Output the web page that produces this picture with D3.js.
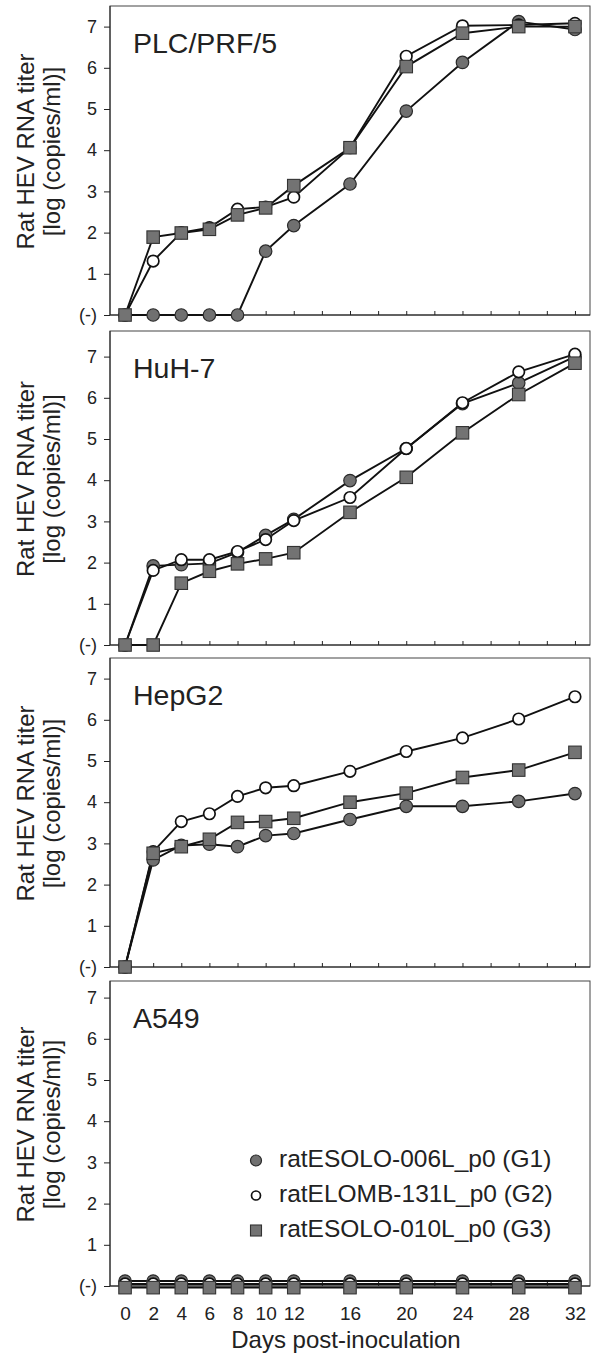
<!DOCTYPE html>
<html>
<head>
<meta charset="utf-8">
<script src="https://cdn.jsdelivr.net/npm/d3@7"></script>
<style>
body { margin: 0; background: #fff; }
text { font-family: "Liberation Sans", Arial, sans-serif; fill: #222; }
</style>
</head>
<body>
<svg id="chart" width="593" height="1355"></svg>
<script>
// days post-inoculation (sampling points)
var days = [0, 2, 4, 6, 8, 10, 12, 16, 20, 24, 28, 32];
var dayTicks = [0, 2, 4, 6, 8, 10, 12, 14, 16, 18, 20, 22, 24, 26, 28, 30, 32];
var dayLabels = [0, 2, 4, 6, 8, 10, 12, 16, 20, 24, 28, 32];
var titerTicks = [0, 1, 2, 3, 4, 5, 6, 7];

var cellLines = ["PLC/PRF/5", "HuH-7", "HepG2", "A549"];
var seriesNames = ["ratESOLO-006L_p0 (G1)", "ratELOMB-131L_p0 (G2)", "ratESOLO-010L_p0 (G3)"];

// log titers, 0 = "(-)"
var plcG1 = [0, 0, 0, 0, 0, 1.55, 2.17, 3.18, 4.95, 6.13, 7.12, 6.93];
var plcG2 = [0, 1.31, 2.0, 2.12, 2.57, 2.62, 2.86, 4.06, 6.28, 7.02, 7.04, 7.08];
var plcG3 = [0, 1.89, 1.99, 2.08, 2.43, 2.6, 3.14, 4.06, 6.03, 6.84, 7.0, 7.0];

var huhG1 = [0, 1.92, 1.95, 1.98, 2.25, 2.66, 3.05, 3.99, 4.77, 5.86, 6.36, 7.0];
var huhG2 = [0, 1.81, 2.07, 2.07, 2.27, 2.56, 3.02, 3.58, 4.77, 5.88, 6.63, 7.06];
var huhG3 = [0, 0, 1.5, 1.79, 1.97, 2.09, 2.24, 3.22, 4.07, 5.15, 6.08, 6.84];

var hepG1 = [0, 2.6, 2.95, 2.98, 2.92, 3.19, 3.24, 3.58, 3.9, 3.9, 4.02, 4.21];
var hepG2 = [0, 2.8, 3.53, 3.72, 4.14, 4.35, 4.4, 4.75, 5.23, 5.56, 6.02, 6.56];
var hepG3 = [0, 2.76, 2.92, 3.1, 3.51, 3.53, 3.61, 4.0, 4.22, 4.6, 4.78, 5.21];

var a549G1 = [0.12, 0.12, 0.12, 0.12, 0.12, 0.12, 0.12, 0.12, 0.12, 0.12, 0.12, 0.12];
var a549G2 = [0.05, 0.05, 0.05, 0.05, 0.05, 0.05, 0.05, 0.05, 0.05, 0.05, 0.05, 0.05];
var a549G3 = [-0.04, -0.04, -0.04, -0.04, -0.04, -0.04, -0.04, -0.04, -0.04, -0.04, -0.04, -0.04];

var panelSeries = [
    [plcG1, plcG2, plcG3],
    [huhG1, huhG2, huhG3],
    [hepG1, hepG2, hepG3],
    [a549G1, a549G2, a549G3]
];

// layout
var plotLeft = 110, plotRight = 590;
var panelTop = [6, 331, 658, 981];
var panelBottom = [315, 645, 967, 1286];
var unit = 41.2;

var svg = d3.select("#chart");

var x_scale = d3.scaleLinear().domain([-1.07, 33.07]).range([plotLeft, plotRight]);

function drawMarker(g, kind, cx, cy, size) {
    if (kind == 0) {
        g.append("circle").attr("cx", cx).attr("cy", cy).attr("r", size / 2)
            .style("fill", "#707070").style("stroke", "#2a2a2a").style("stroke-width", 1.2);
    } else if (kind == 1) {
        g.append("circle").attr("cx", cx).attr("cy", cy).attr("r", size / 2 - 0.5)
            .style("fill", "#fff").style("stroke", "#111").style("stroke-width", 1.7);
    } else {
        g.append("rect").attr("x", cx - size / 2).attr("y", cy - size / 2)
            .attr("width", size).attr("height", size)
            .style("fill", "#737373").style("stroke", "#333").style("stroke-width", 1.1);
    }
}

cellLines.forEach(function(name, p) {
    var top = panelTop[p], bottom = panelBottom[p];
    var last = (p == cellLines.length - 1);
    var y_scale = d3.scaleLinear().domain([0, 7]).range([bottom, bottom - 7 * unit]);
    var g = svg.append("g");

    // frame
    g.append("rect")
        .attr("x", plotLeft).attr("y", top)
        .attr("width", plotRight - plotLeft).attr("height", bottom - top)
        .style("fill", "none").style("stroke", "#444").style("stroke-width", 1);

    // y axis
    var yAxis = g.append("g")
        .attr("transform", "translate(" + plotLeft + ",0)")
        .call(d3.axisLeft(y_scale).tickValues(titerTicks).tickSizeInner(6).tickSizeOuter(0).tickPadding(7)
            .tickFormat(function(d) { return d == 0 ? "(-)" : d; }));
    yAxis.select(".domain").attr("d", "M0," + top + "V" + bottom).style("stroke", "#222");
    yAxis.selectAll(".tick line").style("stroke", "#222");
    yAxis.selectAll("text").style("font-size", "18px").style("fill", "#222");

    // x axis, ticks point inward
    var xAxis = g.append("g")
        .attr("transform", "translate(0," + bottom + ")")
        .call(d3.axisBottom(x_scale).tickValues(dayTicks).tickSizeInner(-4).tickSizeOuter(0).tickPadding(21)
            .tickFormat(function(d) { return (last && dayLabels.indexOf(d) >= 0) ? d : ""; }));
    xAxis.select(".domain").attr("d", "M" + plotLeft + ",0H" + plotRight).style("stroke", "#222");
    xAxis.selectAll(".tick line").style("stroke", "#222");
    xAxis.selectAll("text").style("font-size", "19px").style("fill", "#222");

    // y title
    var cy = (top + bottom) / 2 - 9;
    g.append("text")
        .attr("transform", "translate(34," + cy + ") rotate(-90)")
        .attr("text-anchor", "middle")
        .style("font-size", "24px")
        .text("Rat HEV RNA titer");
    g.append("text")
        .attr("transform", "translate(60," + cy + ") rotate(-90)")
        .attr("text-anchor", "middle")
        .style("font-size", "24px")
        .text("[log (copies/ml)]");

    // panel label
    g.append("text")
        .attr("x", 133).attr("y", top + 47)
        .style("font-size", "28.5px")
        .text(name);

    // lines
    var line = d3.line()
        .x(function(d, i) { return x_scale(days[i]); })
        .y(function(d) { return y_scale(d); });
    panelSeries[p].forEach(function(vals) {
        g.append("path")
            .attr("d", line(vals))
            .style("fill", "none").style("stroke", "#111").style("stroke-width", 1.9);
    });

    // markers
    panelSeries[p].forEach(function(vals, s) {
        vals.forEach(function(v, i) {
            drawMarker(g, s, x_scale(days[i]), y_scale(v), 12.5);
        });
    });

    // legend in the last panel
    if (last) {
        var legendBase = [bottom - 119, bottom - 84, bottom - 49];
        seriesNames.forEach(function(label, s) {
            drawMarker(g, s, 256, legendBase[s] - 6.5, s == 1 ? 10 : 11);
            g.append("text")
                .attr("x", 279).attr("y", legendBase[s])
                .style("font-size", "24.5px")
                .text(label);
        });
        g.append("text")
            .attr("x", 346).attr("y", bottom + 62)
            .attr("text-anchor", "middle")
            .style("font-size", "24px")
            .text("Days post-inoculation");
    }
});
</script>
</body>
</html>
